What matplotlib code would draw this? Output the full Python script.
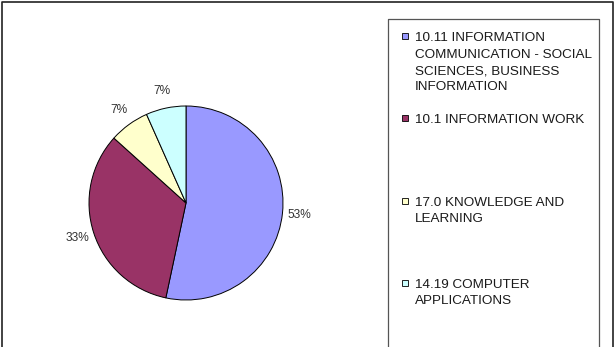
import matplotlib
matplotlib.use("Agg")
import matplotlib.pyplot as plt
from matplotlib.lines import Line2D
from matplotlib.patches import Rectangle

plt.rcParams['font.family'] = ['Liberation Sans', 'DejaVu Sans']

# data (counts out of 15 -> 53/33/7/7 %)
categories = [
    "10.11 INFORMATION\nCOMMUNICATION - SOCIAL\nSCIENCES, BUSINESS\nINFORMATION",
    "10.1 INFORMATION WORK",
    "17.0 KNOWLEDGE AND\nLEARNING",
    "14.19 COMPUTER\nAPPLICATIONS",
]
counts = [8, 5, 1, 1]
colors = ["#9999FF", "#993366", "#FFFFCC", "#CCFFFF"]

W, H = 615, 347
fig = plt.figure(figsize=(W / 100, H / 100), dpi=100)
fig.patch.set_facecolor("white")

# pie axes, centre at (186, 203) px from top-left, radius 97 px
cx, cy, r = 186, 203, 97
half = 1.4 * r
ax = fig.add_axes([(cx - half) / W, (H - cy - half) / H, 2 * half / W, 2 * half / H])
ax.pie(counts, colors=colors, startangle=90, counterclock=False,
       autopct=lambda p: f"{p:.0f}%", pctdistance=1.18,
       wedgeprops=dict(edgecolor="black", linewidth=0.7),
       textprops=dict(fontsize=8.6, color="#333333"))
ax.set_xlim(-1.4, 1.4)
ax.set_ylim(-1.4, 1.4)
ax.set_aspect("equal")
ax.axis("off")


def px(x, y):
    return x / W, 1 - y / H


# outer chart frame (bottom edge is cut off)
frame_x = [1.5, 1.5, 612.5, 612.5]
frame_y = [H + 5, 1.5, 1.5, H + 5]
fig.add_artist(Line2D([x / W for x in frame_x], [1 - y / H for y in frame_y],
                      color="#222222", linewidth=1.2, transform=fig.transFigure))

# legend box
lx0, lx1, ly0 = 388, 599, 19
fig.add_artist(Line2D([lx0 / W, lx0 / W, lx1 / W, lx1 / W],
                      [1 - (H + 5) / H, 1 - ly0 / H, 1 - ly0 / H, 1 - (H + 5) / H],
                      color="#555555", linewidth=0.9, transform=fig.transFigure))

entry_y = [36, 118, 201, 283]
for label, color, ey in zip(categories, colors, entry_y):
    sx, sy = px(402.5, ey + 3)
    fig.add_artist(Rectangle((sx, sy), 6 / W, 6 / H, facecolor=color,
                             edgecolor="black", linewidth=0.6,
                             transform=fig.transFigure))
    tx, ty = px(415, ey - 4)
    fig.text(tx, ty, label, fontsize=9.7, color="#1a1a1a", va="top", ha="left",
             linespacing=1.5)

fig.savefig("out.png", dpi=100)
